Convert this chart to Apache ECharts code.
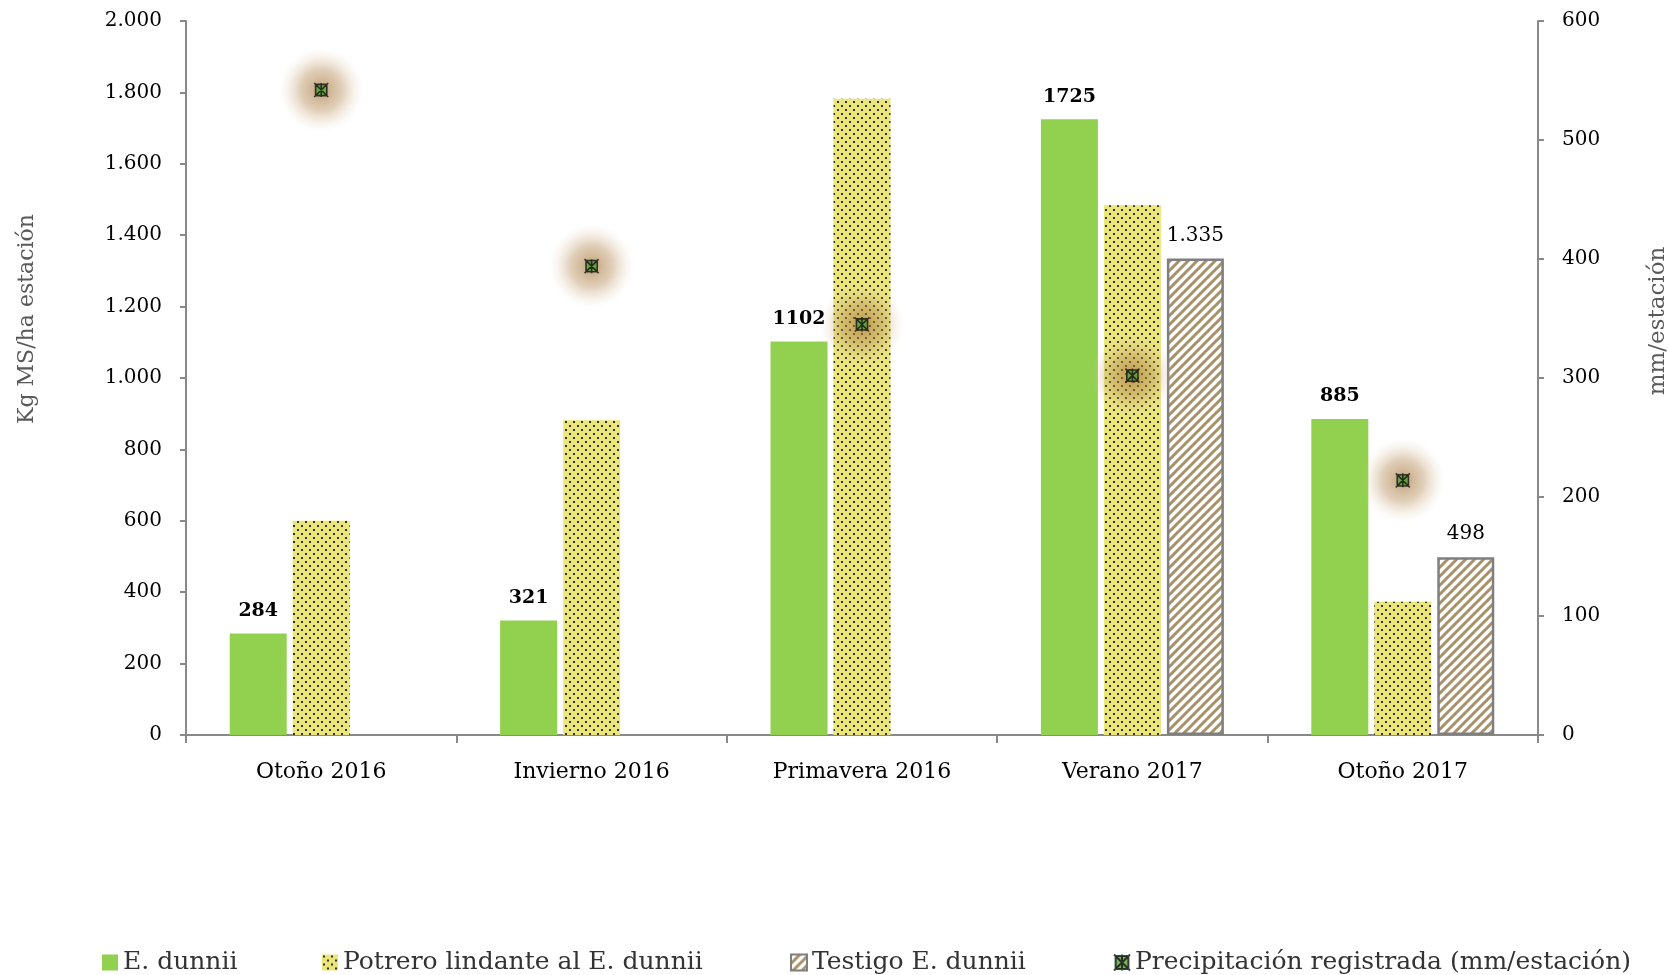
<!DOCTYPE html>
<html>
<head>
<meta charset="utf-8">
<script src="https://cdn.jsdelivr.net/npm/echarts@6/dist/echarts.min.js"></script>
<style>
  html, body { margin: 0; padding: 0; background: #fff; }
  #chart { width: 1669px; height: 975px; }
</style>
</head>
<body>
<div id="chart"></div>
<script>
// Seasons on the horizontal axis
const categories = ['Otoño 2016', 'Invierno 2016', 'Primavera 2016', 'Verano 2017', 'Otoño 2017'];
// Forage production, kg DM/ha per season
const eDunnii = [284, 321, 1102, 1725, 885];
const potrero = [600, 882, 1782, 1484, 373];
const testigo = [null, null, null, 1335, 498];
// Rainfall per season, mm
const precipitacion = [542, 394, 345, 302, 214];
// Axis ranges
const leftAxis = { min: 0, max: 2000, interval: 200 };
const rightAxis = { min: 0, max: 600, interval: 100 };

const FONT = 'DejaVu Serif';

function thousands(v) {
  return String(v).replace(/\B(?=(\d{3})+(?!\d))/g, '.');
}

// Dotted fill: yellow ground with staggered dark dots
function dotTile() {
  const c = document.createElement('canvas');
  c.width = 8; c.height = 8;
  const g = c.getContext('2d');
  g.fillStyle = '#e9e67a';
  g.fillRect(0, 0, 8, 8);
  g.fillStyle = '#3d2c22';
  g.fillRect(1, 1, 2, 2);
  g.fillRect(5, 5, 2, 2);
  return c;
}

// Hatched fill: white ground with upward diagonal tan stripes
function stripeTile() {
  const c = document.createElement('canvas');
  c.width = 9; c.height = 9;
  const g = c.getContext('2d');
  g.fillStyle = '#ffffff';
  g.fillRect(0, 0, 9, 9);
  g.strokeStyle = '#a89068';
  g.lineWidth = 3;
  for (let k = -9; k <= 9; k += 9) {
    g.beginPath();
    g.moveTo(k - 1, 10);
    g.lineTo(k + 10, -1);
    g.stroke();
  }
  return c;
}

const dots = { image: dotTile(), repeat: 'repeat' };
const stripes = { image: stripeTile(), repeat: 'repeat' };

// green square crossed by an asterisk
const markerPath = 'path://M1,1L9,1L9,9L1,9Z M0,0L10,10 M10,0L0,10 M5,0L5,10';

const chart = echarts.init(document.getElementById('chart'), null, { renderer: 'canvas' });

const legendBase = {
  top: 950,
  padding: 0,
  itemWidth: 16,
  itemHeight: 16,
  itemGap: 0,
  textStyle: { fontFamily: FONT, fontSize: 25, color: '#333333' }
};

chart.setOption({
  animation: false,
  backgroundColor: '#ffffff',
  textStyle: { fontFamily: FONT },
  grid: { left: 186, right: 131, top: 21, bottom: 240, containLabel: false },
  legend: [
    Object.assign({}, legendBase, { left: 102, data: [{ name: 'E. dunnii', icon: 'rect' }] }),
    Object.assign({}, legendBase, { left: 322, data: [{ name: 'Potrero lindante al E. dunnii', icon: 'rect' }] }),
    Object.assign({}, legendBase, { left: 790, data: [{ name: 'Testigo E. dunnii', icon: 'rect' }] }),
    Object.assign({}, legendBase, { left: 1113, data: [{ name: 'Precipitación registrada (mm/estación)', icon: markerPath }] })
  ],
  xAxis: {
    type: 'category',
    data: categories,
    axisLine: { lineStyle: { color: '#898989', width: 2 } },
    axisTick: { show: true, length: 8, lineStyle: { color: '#898989', width: 2 } },
    axisLabel: { color: '#000', fontSize: 22, fontFamily: FONT, margin: 26 }
  },
  yAxis: [
    {
      type: 'value',
      min: leftAxis.min, max: leftAxis.max, interval: leftAxis.interval,
      splitLine: { show: false },
      axisLine: { show: true, lineStyle: { color: '#898989', width: 2 } },
      axisTick: { show: true, length: 6, lineStyle: { color: '#898989', width: 2 } },
      axisLabel: { color: '#000', fontSize: 20, fontFamily: FONT, margin: 24, formatter: v => thousands(v) }
    },
    {
      type: 'value',
      position: 'right',
      min: rightAxis.min, max: rightAxis.max, interval: rightAxis.interval,
      splitLine: { show: false },
      axisLine: { show: true, lineStyle: { color: '#898989', width: 2 } },
      axisTick: { show: true, length: 6, lineStyle: { color: '#898989', width: 2 } },
      axisLabel: { color: '#000', fontSize: 20, fontFamily: FONT, margin: 24 }
    }
  ],
  graphic: [
    {
      type: 'text', x: 27, y: 319, rotation: Math.PI / 2,
      style: { text: 'Kg MS/ha estación', fill: '#595959', font: '22px "DejaVu Serif"', align: 'center', verticalAlign: 'middle' }
    },
    {
      type: 'text', x: 1658, y: 321, rotation: Math.PI / 2,
      style: { text: 'mm/estación', fill: '#595959', font: '23px "DejaVu Serif"', align: 'center', verticalAlign: 'middle' }
    }
  ],
  series: [
    {
      name: 'E. dunnii',
      type: 'bar',
      data: eDunnii,
      barWidth: 57,
      barGap: '10.5%',
      itemStyle: { color: '#92d050' },
      label: {
        show: true, position: 'top', distance: 13,
        fontFamily: FONT, fontSize: 19, fontWeight: 'bold', color: '#000'
      }
    },
    {
      name: 'Potrero lindante al E. dunnii',
      type: 'bar',
      data: potrero,
      barWidth: 57,
      barGap: '10.5%',
      itemStyle: { color: dots }
    },
    {
      name: 'Testigo E. dunnii',
      type: 'bar',
      data: testigo,
      barWidth: 57,
      barGap: '10.5%',
      itemStyle: { color: stripes, borderColor: '#7f7f7f', borderWidth: 2.5 },
      label: {
        show: true, position: 'top', distance: 13,
        fontFamily: FONT, fontSize: 20, color: '#000',
        formatter: p => thousands(p.value)
      }
    },
    {
      // soft halo behind each rainfall marker
      name: 'halo',
      type: 'scatter',
      yAxisIndex: 1,
      data: precipitacion,
      symbol: 'circle',
      symbolSize: 84,
      silent: true,
      itemStyle: {
        color: {
          type: 'radial', x: 0.5, y: 0.5, r: 0.5,
          colorStops: [
            { offset: 0, color: 'rgba(165,115,55,0.85)' },
            { offset: 0.5, color: 'rgba(185,145,95,0.55)' },
            { offset: 1, color: 'rgba(230,210,180,0)' }
          ]
        }
      },
      z: 3
    },
    {
      name: 'Precipitación registrada (mm/estación)',
      type: 'scatter',
      yAxisIndex: 1,
      data: precipitacion,
      symbol: markerPath,
      symbolSize: 14,
      itemStyle: { color: '#55a03a', borderColor: '#111', borderWidth: 1.6 },
      z: 4
    }
  ]
});
</script>
</body>
</html>
